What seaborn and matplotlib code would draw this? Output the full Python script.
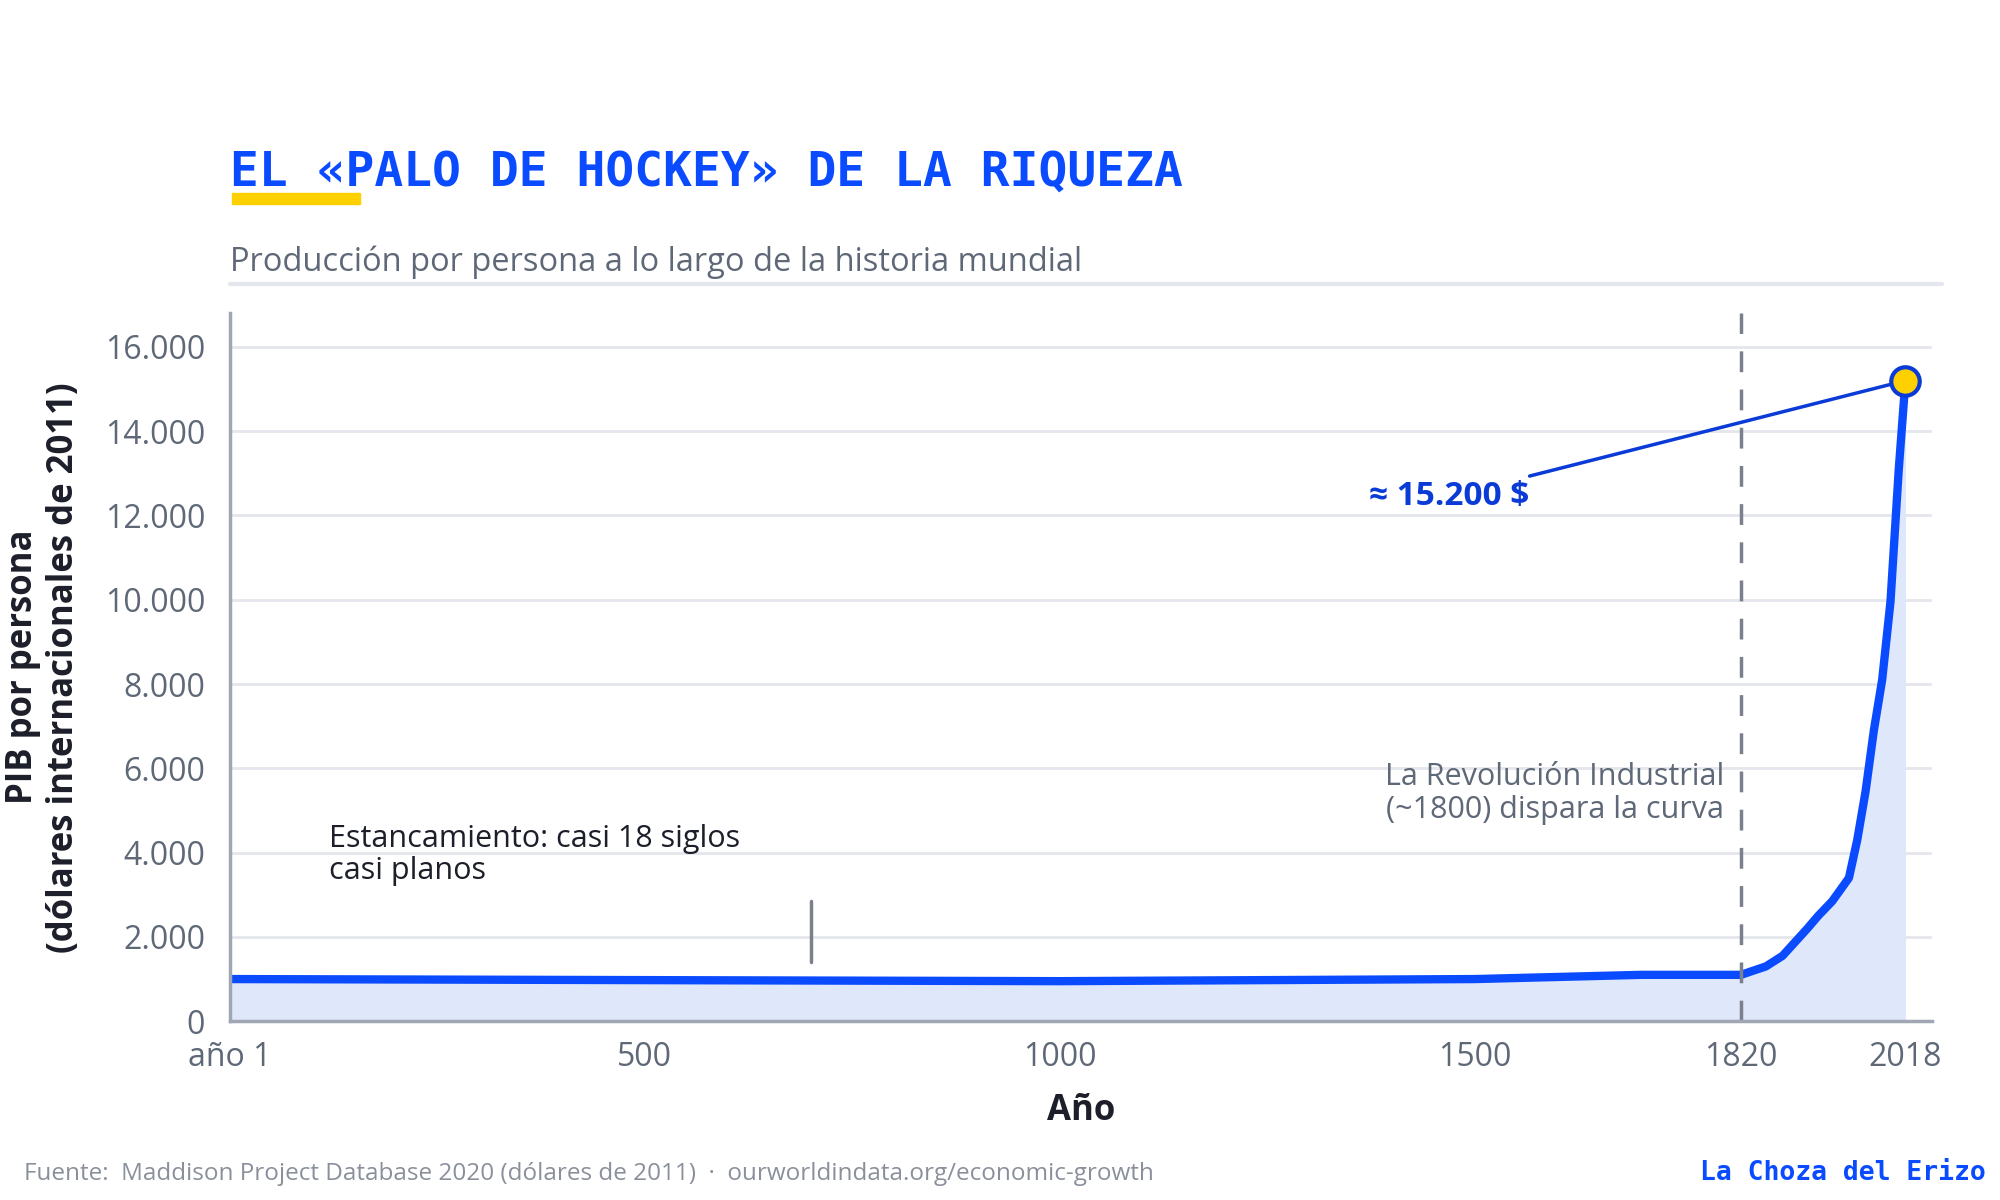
import matplotlib
matplotlib.use("Agg")
import matplotlib.pyplot as plt
import seaborn as sns
import pandas as pd

years = [1, 1000, 1500, 1600, 1700, 1820, 1850, 1870, 1900, 1913, 1930, 1950, 1960, 1970, 1980, 1990, 2000, 2010, 2018]
gdp = [1000, 950, 1000, 1050, 1100, 1100, 1300, 1550, 2200, 2500, 2850, 3400, 4300, 5450, 6900, 8100, 9950, 13100, 15200]
xticks = [1, 500, 1000, 1500, 1820, 2018]
xticklabels = ["año 1", "500", "1000", "1500", "1820", "2018"]
yticks = [0, 2000, 4000, 6000, 8000, 10000, 12000, 14000, 16000]
yticklabels = ["0", "2.000", "4.000", "6.000", "8.000", "10.000", "12.000", "14.000", "16.000"]

df = pd.DataFrame({"year": years, "gdp": gdp})
sns.set_theme(style="white")
plt.rcParams['font.family'] = ['Open Sans', 'DejaVu Sans']

BLUE = "#0a4bff"
GRAY = "#5f6877"
fig = plt.figure(figsize=(20, 12), dpi=100)
ax = fig.add_axes([0.115, 0.149, 0.851, 0.59])
ax.fill_between(df.year, df.gdp, color="#dfe7fb", lw=0)
sns.lineplot(data=df, x="year", y="gdp", ax=ax, color=BLUE, lw=6)
ax.scatter([years[-1]], [gdp[-1]], s=420, color="#ffd000", edgecolor="#0a3bd6", linewidth=3, zorder=5)
ax.set_xlim(1, 2050)
ax.set_ylim(0, 16800)
ax.set_xticks(xticks, xticklabels)
ax.set_yticks(yticks, yticklabels)
ax.tick_params(axis="both", labelsize=23, colors=GRAY, length=8, width=2, color="#a0a7b3")
ax.tick_params(axis="y", pad=10)
ax.tick_params(axis="x", pad=6)
ax.grid(axis="y", color="#e4e6ed", lw=2)
for s in ["top", "right"]:
    ax.spines[s].set_visible(False)
for s in ["left", "bottom"]:
    ax.spines[s].set_color("#a0a7b3")
    ax.spines[s].set_linewidth(2.5)
ax.axvline(1820, color="#7a808c", lw=2.5, ls=(0, (6, 5)))
ax.set_xlabel("Año", fontsize=25, fontweight="bold", color="#1c1f2a", labelpad=14)
ax.set_ylabel("PIB por persona\n(dólares internacionales de 2011)", fontsize=25, fontweight="bold", color="#1c1f2a", labelpad=16)

ax.annotate("≈ 15.200 $", xy=(2018, 15200), xytext=(1565, 12450), fontsize=24, fontweight="bold",
            color="#0a3bd6", ha="right", va="center",
            arrowprops=dict(arrowstyle="-", color="#0a3bd6", lw=2.5, shrinkA=2, shrinkB=12))
ax.text(1800, 5400, "La Revolución Industrial\n(~1800) dispara la curva", fontsize=22, color=GRAY, ha="right", va="center", linespacing=1.1)
ax.text(120, 3950, "Estancamiento: casi 18 siglos\ncasi planos", fontsize=22, color="#1c1f2a", ha="left", va="center", linespacing=1.1)
ax.plot([700, 700], [1400, 2850], color="#7a808c", lw=2.5)

fig.text(0.115, 0.845, "EL «PALO DE HOCKEY» DE LA RIQUEZA", fontsize=34.5, fontweight="bold", color=BLUE, family="DejaVu Sans Mono")
fig.patches.append(plt.Rectangle((0.116, 0.830), 0.064, 0.009, transform=fig.transFigure, color="#ffd000"))
fig.text(0.115, 0.774, "Producción por persona a lo largo de la historia mundial", fontsize=23.5, color=GRAY)
fig.add_artist(plt.Line2D([0.115, 0.971], [0.763, 0.763], transform=fig.transFigure, color="#e4e6ed", lw=3))
fig.text(0.012, 0.017, "Fuente:  Maddison Project Database 2020 (dólares de 2011)  ·  ourworldindata.org/economic-growth", fontsize=17.5, color="#8a909b")
fig.text(0.993, 0.017, "La Choza del Erizo", fontsize=19, fontweight="bold", color=BLUE, family="DejaVu Sans Mono", ha="right")
fig.savefig("out.png", dpi=100, facecolor="white")
